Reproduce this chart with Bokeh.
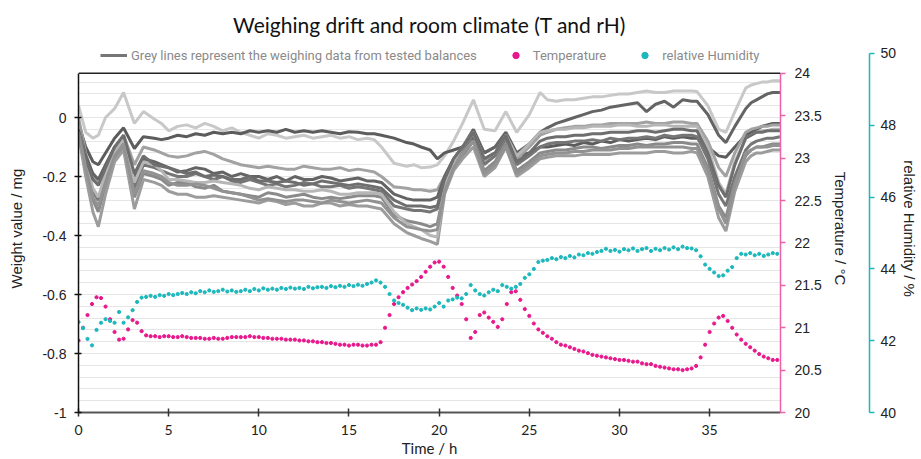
import numpy as np
from bokeh.plotting import figure
from bokeh.models import (Range1d, LinearAxis, FixedTicker, NumeralTickFormatter,
                          Span, Legend, LegendItem)
from bokeh.embed import file_html
from bokeh.resources import INLINE

# ---------------- data ----------------
# weighing drift of tested balances (mg), common time grid (h)
t_w = [0, 0.4, 0.8, 1.1, 1.5, 2.0, 2.5, 3.1, 3.6, 4.2,
       4.6, 5, 5.5, 6, 6.5, 7, 7.5, 8, 8.5, 9, 9.5, 10,
       10.5, 11, 11.5, 12, 12.5, 13, 13.5, 14, 14.5, 15, 15.5, 16,
       16.4, 16.8, 17.5, 18.2, 18.6, 19, 19.5, 19.9, 20.3, 20.8,
       21.3, 21.9, 22.5, 23.1, 23.7, 24.3, 25, 25.6,
       26, 26.5, 27, 27.5, 28, 28.5, 29, 29.5, 30, 30.5,
       31, 31.5, 32, 32.5, 33, 33.5, 34, 34.3, 34.9, 35.5,
       35.9, 36.4, 37.0, 37.3, 37.6, 37.9, 38.2, 38.5, 38.9]

w1 = [0.04, -0.05, -0.07, -0.06, 0.0, 0.03, 0.085, -0.02, 0.02, -0.005,
      -0.02, -0.045, -0.03, -0.025, -0.035, -0.02, -0.03, -0.045, -0.035, -0.05, -0.06, -0.07,
      -0.055, -0.06, -0.07, -0.065, -0.06, -0.07, -0.065, -0.06, -0.07, -0.065, -0.075, -0.07,
      -0.075, -0.1, -0.155, -0.165, -0.16, -0.17, -0.168, -0.16, -0.13, -0.08,
      -0.02, 0.06, -0.04, -0.045, 0.02, -0.05, 0.01, 0.085,
      0.06, 0.055, 0.06, 0.06, 0.065, 0.07, 0.07, 0.075, 0.08, 0.08,
      0.085, 0.09, 0.085, 0.085, 0.09, 0.09, 0.09, 0.088, 0.04, -0.04,
      -0.05, 0.02, 0.1, 0.11, 0.115, 0.12, 0.12, 0.125, 0.125]
w2 = [-0.02, -0.1, -0.15, -0.16, -0.12, -0.07, -0.035, -0.105, -0.065, -0.07,
      -0.075, -0.07, -0.06, -0.065, -0.055, -0.06, -0.05, -0.055, -0.05, -0.055, -0.045, -0.05,
      -0.045, -0.05, -0.04, -0.05, -0.045, -0.05, -0.045, -0.05, -0.055, -0.048, -0.05, -0.055,
      -0.055, -0.06, -0.07, -0.085, -0.09, -0.1, -0.11, -0.14, -0.12, -0.11,
      -0.1, -0.07, -0.12, -0.1, -0.08, -0.13, -0.12, -0.1,
      -0.1, -0.095, -0.09, -0.095, -0.085, -0.09, -0.08, -0.085, -0.075, -0.08,
      -0.075, -0.07, -0.075, -0.065, -0.07, -0.065, -0.07, -0.07, -0.1, -0.13,
      -0.135, -0.1, -0.06, -0.05, -0.04, -0.03, -0.025, -0.02, -0.02]
w3 = [0.0, -0.12, -0.2, -0.22, -0.17, -0.11, -0.06, -0.16, -0.1, -0.11,
      -0.12, -0.13, -0.135, -0.13, -0.12, -0.115, -0.125, -0.14, -0.15, -0.16, -0.165, -0.17,
      -0.165, -0.17, -0.175, -0.175, -0.165, -0.17, -0.175, -0.175, -0.17, -0.18, -0.175, -0.18,
      -0.185, -0.2, -0.235, -0.24, -0.245, -0.245, -0.25, -0.245, -0.2, -0.14,
      -0.1, -0.08, -0.15, -0.13, -0.08, -0.14, -0.1, -0.06,
      -0.05, -0.04, -0.035, -0.03, -0.03, -0.025, -0.025, -0.02, -0.02, -0.02,
      -0.02, -0.015, -0.02, -0.02, -0.015, -0.015, -0.02, -0.02, -0.08, -0.17,
      -0.2, -0.12, -0.05, -0.04, -0.035, -0.03, -0.03, -0.025, -0.025]
w4 = [-0.03, -0.13, -0.19, -0.21, -0.16, -0.1, -0.07, -0.2, -0.14, -0.15,
      -0.16, -0.17, -0.185, -0.18, -0.17, -0.175, -0.19, -0.185, -0.2, -0.19, -0.2, -0.2,
      -0.21, -0.2, -0.215, -0.2, -0.21, -0.21, -0.2, -0.205, -0.215, -0.21, -0.205, -0.215,
      -0.215, -0.22, -0.26, -0.275, -0.28, -0.28, -0.28, -0.27, -0.2, -0.14,
      -0.1, -0.04, -0.12, -0.1, -0.05, -0.12, -0.09, -0.05,
      -0.035, -0.02, -0.01, 0.0, 0.01, 0.02, 0.025, 0.035, 0.04, 0.045,
      0.05, 0.02, 0.045, 0.055, 0.035, 0.06, 0.055, 0.055, 0.01, -0.06,
      -0.085, -0.03, 0.03, 0.05, 0.06, 0.07, 0.08, 0.085, 0.085]
w5 = [-0.04, -0.16, -0.25, -0.28, -0.2, -0.12, -0.08, -0.24, -0.16, -0.17,
      -0.18, -0.19, -0.2, -0.2, -0.19, -0.2, -0.21, -0.2, -0.215, -0.22, -0.21, -0.22,
      -0.23, -0.225, -0.235, -0.23, -0.22, -0.225, -0.235, -0.235, -0.23, -0.24, -0.235, -0.24,
      -0.245, -0.25, -0.3, -0.31, -0.315, -0.315, -0.32, -0.31, -0.22, -0.15,
      -0.11, -0.06, -0.16, -0.13, -0.07, -0.16, -0.13, -0.1,
      -0.09, -0.085, -0.085, -0.08, -0.08, -0.075, -0.08, -0.07, -0.075, -0.07,
      -0.07, -0.065, -0.07, -0.06, -0.065, -0.06, -0.06, -0.065, -0.14, -0.26,
      -0.3, -0.2, -0.11, -0.09, -0.08, -0.075, -0.07, -0.07, -0.065]
w6 = [-0.05, -0.18, -0.28, -0.32, -0.23, -0.14, -0.1, -0.27, -0.19, -0.2,
      -0.21, -0.23, -0.22, -0.22, -0.235, -0.24, -0.23, -0.25, -0.255, -0.26, -0.265, -0.27,
      -0.255, -0.26, -0.27, -0.265, -0.26, -0.27, -0.275, -0.27, -0.275, -0.27, -0.265, -0.265,
      -0.265, -0.27, -0.33, -0.35, -0.355, -0.36, -0.37, -0.36, -0.24, -0.17,
      -0.13, -0.08, -0.18, -0.15, -0.09, -0.18, -0.15, -0.12,
      -0.115, -0.11, -0.11, -0.105, -0.1, -0.1, -0.105, -0.1, -0.095, -0.095,
      -0.09, -0.095, -0.09, -0.09, -0.085, -0.085, -0.09, -0.09, -0.17, -0.3,
      -0.34, -0.22, -0.13, -0.11, -0.1, -0.1, -0.095, -0.09, -0.09]
w7 = [-0.06, -0.2, -0.32, -0.37, -0.26, -0.15, -0.11, -0.31, -0.21, -0.22,
      -0.23, -0.25, -0.26, -0.26, -0.27, -0.27, -0.265, -0.27, -0.275, -0.28, -0.285, -0.29,
      -0.28, -0.285, -0.295, -0.29, -0.3, -0.3, -0.29, -0.29, -0.3, -0.295, -0.3, -0.3,
      -0.305, -0.31, -0.36, -0.39, -0.4, -0.41, -0.42, -0.43, -0.26, -0.18,
      -0.14, -0.1, -0.2, -0.17, -0.1, -0.2, -0.17, -0.14,
      -0.135, -0.13, -0.13, -0.13, -0.125, -0.125, -0.125, -0.125, -0.12, -0.12,
      -0.12, -0.12, -0.115, -0.115, -0.12, -0.12, -0.115, -0.12, -0.2, -0.34,
      -0.385, -0.25, -0.15, -0.13, -0.12, -0.12, -0.115, -0.11, -0.11]
w8 = [-0.03, -0.15, -0.24, -0.27, -0.19, -0.12, -0.07, -0.22, -0.15, -0.16,
      -0.18, -0.21, -0.21, -0.215, -0.22, -0.22, -0.215, -0.22, -0.225, -0.23, -0.24, -0.245,
      -0.235, -0.24, -0.245, -0.245, -0.25, -0.25, -0.245, -0.25, -0.26, -0.26, -0.255, -0.255,
      -0.255, -0.26, -0.32, -0.36, -0.37, -0.38, -0.4, -0.405, -0.23, -0.15,
      -0.1, -0.05, -0.14, -0.12, -0.06, -0.13, -0.09, -0.05,
      -0.045, -0.04, -0.04, -0.035, -0.035, -0.03, -0.03, -0.03, -0.025, -0.025,
      -0.03, -0.03, -0.025, -0.025, -0.03, -0.03, -0.03, -0.03, -0.1, -0.22,
      -0.26, -0.15, -0.07, -0.06, -0.05, -0.045, -0.045, -0.04, -0.04]
w9 = [-0.04, -0.14, -0.21, -0.23, -0.17, -0.1, -0.06, -0.19, -0.13, -0.16,
      -0.165, -0.17, -0.18, -0.19, -0.185, -0.2, -0.195, -0.2, -0.21, -0.21, -0.2, -0.215,
      -0.215, -0.22, -0.215, -0.22, -0.23, -0.225, -0.215, -0.22, -0.225, -0.23, -0.225, -0.23,
      -0.235, -0.24, -0.28, -0.3, -0.3, -0.3, -0.305, -0.3, -0.21, -0.14,
      -0.1, -0.05, -0.14, -0.12, -0.06, -0.15, -0.12, -0.08,
      -0.07, -0.065, -0.065, -0.06, -0.06, -0.055, -0.055, -0.05, -0.05, -0.05,
      -0.045, -0.045, -0.05, -0.045, -0.04, -0.04, -0.045, -0.045, -0.12, -0.23,
      -0.27, -0.16, -0.07, -0.06, -0.05, -0.05, -0.045, -0.045, -0.045]
w10 = [-0.05, -0.17, -0.27, -0.3, -0.22, -0.13, -0.09, -0.26, -0.18, -0.19,
       -0.2, -0.22, -0.23, -0.23, -0.225, -0.23, -0.24, -0.25, -0.255, -0.26, -0.27, -0.28,
       -0.275, -0.28, -0.285, -0.28, -0.28, -0.285, -0.29, -0.28, -0.285, -0.29, -0.285, -0.28,
       -0.285, -0.29, -0.34, -0.37, -0.375, -0.38, -0.385, -0.38, -0.25, -0.17,
       -0.12, -0.08, -0.19, -0.16, -0.1, -0.19, -0.16, -0.13,
       -0.125, -0.12, -0.12, -0.115, -0.115, -0.11, -0.11, -0.11, -0.105, -0.105,
       -0.1, -0.1, -0.1, -0.1, -0.1, -0.1, -0.105, -0.105, -0.18, -0.31,
       -0.36, -0.23, -0.12, -0.11, -0.1, -0.1, -0.1, -0.095, -0.095]

weights = [w1, w2, w3, w4, w5, w6, w7, w8, w9, w10]
grey_colors = ["#c8c8c8", "#5c5c5c", "#a2a2a2", "#646464", "#767676",
               "#8a8a8a", "#9c9c9c", "#b6b6b6", "#6e6e6e", "#929292"]

# room climate, sampled every 0.25 h
temperature = [20.85, 21.0, 21.15, 21.28, 21.36, 21.35, 21.25, 21.1, 20.95, 20.86, 20.87, 20.98,
               21.09, 21.06, 20.96, 20.91, 20.90,
               20.90, 20.89, 20.90, 20.90, 20.89, 20.89, 20.90, 20.89, 20.88, 20.88, 20.88, 20.87,
               20.87, 20.88, 20.87, 20.87, 20.88, 20.89, 20.89,
               20.89, 20.89, 20.90, 20.89, 20.89, 20.88, 20.88, 20.87, 20.87, 20.87, 20.86, 20.86,
               20.86, 20.85, 20.85, 20.84, 20.84, 20.83, 20.83, 20.82, 20.82, 20.81, 20.80, 20.80,
               20.79, 20.80, 20.80, 20.79, 20.79, 20.80, 20.80, 20.83,
               21.0, 21.15, 21.28, 21.36, 21.42, 21.47, 21.51, 21.55, 21.6, 21.66, 21.72, 21.77,
               21.78, 21.72, 21.6, 21.47, 21.38, 21.28, 21.1, 20.88, 20.95, 21.15, 21.18, 21.12,
               21.07, 21.01, 21.1, 21.28, 21.42, 21.43, 21.33, 21.22, 21.14, 21.05, 20.98, 20.94,
               20.9, 20.87, 20.83, 20.8, 20.79, 20.77, 20.75, 20.73, 20.72, 20.7, 20.68, 20.67,
               20.66, 20.65, 20.64, 20.63, 20.62, 20.62, 20.61, 20.6, 20.6, 20.58, 20.57, 20.57,
               20.55, 20.54, 20.53, 20.52, 20.51, 20.51, 20.50, 20.51, 20.52, 20.55, 20.65, 20.8,
               20.95, 21.05, 21.12, 21.14, 21.08, 21.0, 20.92, 20.86, 20.81, 20.77, 20.73, 20.69,
               20.66, 20.64, 20.62, 20.62]
humidity = [42.52, 42.35, 42.05, 41.87, 42.3, 42.5, 42.6, 42.55, 42.5, 42.8, 42.5, 42.65, 42.85,
            43.08, 43.2, 43.22, 43.25, 43.22, 43.27, 43.25, 43.3, 43.27, 43.3, 43.33, 43.3, 43.35,
            43.32, 43.38, 43.35, 43.4, 43.36, 43.38, 43.42, 43.37, 43.4, 43.36, 43.38, 43.42,
            43.38, 43.44, 43.4, 43.46, 43.42, 43.45, 43.42, 43.47, 43.44, 43.48, 43.45, 43.47,
            43.44, 43.5, 43.46, 43.49, 43.5, 43.47, 43.52, 43.49, 43.53, 43.5, 43.55, 43.52,
            43.56, 43.53, 43.58, 43.62, 43.68, 43.62, 43.5, 43.3, 43.12, 43.05, 43.0, 42.92,
            42.85, 42.9, 42.86, 42.9, 42.87, 42.95, 43.05, 42.95, 43.12, 43.15, 43.2, 43.18,
            43.3, 43.55, 43.4, 43.3, 43.26, 43.35, 43.42, 43.38, 43.55, 43.5, 43.45, 43.5, 43.58,
            43.75, 43.85, 44.0, 44.19, 44.23, 44.25, 44.3, 44.27, 44.33, 44.3, 44.36, 44.32,
            44.4, 44.38, 44.44, 44.42, 44.47, 44.5, 44.56, 44.5, 44.53, 44.48, 44.55, 44.52,
            44.57, 44.5, 44.55, 44.58, 44.5, 44.56, 44.52, 44.58, 44.54, 44.6, 44.55, 44.62,
            44.58, 44.57, 44.52, 44.35, 44.12, 44.0, 43.9, 43.8, 43.82, 43.95, 44.05, 44.3,
            44.42, 44.4, 44.44, 44.38, 44.42, 44.36, 44.4, 44.44, 44.42]
t_temp = np.arange(len(temperature)) * 0.25
t_hum = np.arange(len(humidity)) * 0.25

x_ticks = [0, 5, 10, 15, 20, 25, 30, 35]
w_ticks = [-1, -0.8, -0.6, -0.4, -0.2, 0]
temp_ticks = [20, 20.5, 21, 21.5, 22, 22.5, 23, 23.5, 24]
hum_ticks = [40, 42, 44, 46, 48, 50]
grid_ticks = [round(v, 2) for v in np.arange(-1.0, 0.13, 0.04)]

PINK = "#e8188c"
PINK_AXIS = "#f060aa"
TEAL = "#1cb8bb"
TICK_FONT = "Liberation Sans"
ROUND_FONT = "Lato"

# ---------------- figure ----------------
p = figure(width=921, height=459, output_backend="svg", toolbar_location=None,
           x_range=Range1d(0, 38.93), y_range=Range1d(-1, 0.2475),
           min_border_left=78, min_border_right=140, min_border_top=44, min_border_bottom=47,
           title="Weighing drift and room climate (T and rH)")
p.outline_line_color = None
p.background_fill_color = "white"
p.border_fill_color = "white"

p.title.align = "center"
p.title.text_font = ROUND_FONT
p.title.text_font_size = "21px"
p.title.text_font_style = "normal"
p.title.text_color = "#111111"
p.title.standoff = 16

p.extra_y_ranges = {"temp": Range1d(20, 24.342), "hum": Range1d(40, 50.25)}

# grid
p.xgrid.visible = False
p.ygrid.ticker = FixedTicker(ticks=grid_ticks)
p.ygrid.grid_line_color = "#e6e6e6"
p.ygrid.grid_line_width = 1

# left axis
ya = p.yaxis[0]
ya.ticker = FixedTicker(ticks=w_ticks)
ya.bounds = (-1, 0.15)
ya.formatter = NumeralTickFormatter(format="0.[0]")
ya.axis_line_color = "#111111"
ya.axis_line_width = 1.5
ya.major_tick_line_color = "#111111"
ya.major_tick_line_width = 1.5
ya.major_tick_in = 3
ya.major_tick_out = 4
ya.minor_tick_line_color = None
ya.major_label_standoff = 8
ya.major_label_text_font = TICK_FONT
ya.major_label_text_font_size = "14px"
ya.major_label_text_color = "#222222"
ya.axis_label = "Weight value / mg"
ya.axis_label_text_font = TICK_FONT
ya.axis_label_text_font_size = "15px"
ya.axis_label_text_font_style = "normal"
ya.axis_label_text_color = "#222222"
ya.axis_label_standoff = 14

# bottom axis
xa = p.xaxis[0]
xa.ticker = FixedTicker(ticks=x_ticks)
xa.axis_line_color = "#555555"
xa.axis_line_width = 2
xa.major_tick_line_color = "#333333"
xa.major_tick_line_width = 1.5
xa.major_tick_in = 4
xa.major_tick_out = 4
xa.minor_tick_line_color = None
xa.major_label_standoff = 8
xa.major_label_text_font = ROUND_FONT
xa.major_label_text_font_size = "14px"
xa.major_label_text_color = "#222222"
xa.axis_label = "Time / h"
xa.axis_label_text_font = ROUND_FONT
xa.axis_label_text_font_size = "15px"
xa.axis_label_text_font_style = "normal"
xa.axis_label_text_color = "#222222"
xa.axis_label_standoff = 1

# temperature axis
ta = LinearAxis(y_range_name="temp", ticker=FixedTicker(ticks=temp_ticks), bounds=(20, 24),
                formatter=NumeralTickFormatter(format="0.[0]"),
                axis_line_color=PINK_AXIS, axis_line_width=1.5,
                major_tick_line_color=PINK_AXIS, major_tick_line_width=1.5,
                major_tick_in=0, major_tick_out=5, minor_tick_line_color=None,
                major_label_standoff=9, major_label_text_font=TICK_FONT,
                major_label_text_font_size="14px", major_label_text_color="#222222",
                axis_label="Temperature / °C", axis_label_text_font=TICK_FONT,
                axis_label_text_font_size="15px", axis_label_text_font_style="normal",
                axis_label_text_color="#222222", axis_label_standoff=7)
p.add_layout(ta, "right")

# empty spacer axis between the two right axes
sp = LinearAxis(y_range_name="temp", ticker=FixedTicker(ticks=[]), axis_line_color=None,
                major_tick_line_color=None, minor_tick_line_color=None, major_tick_in=0,
                major_tick_out=0, major_label_text_font_size="0px",
                axis_label=" ", axis_label_text_font_size="13px", axis_label_standoff=0)
p.add_layout(sp, "right")

# humidity axis
ha = LinearAxis(y_range_name="hum", ticker=FixedTicker(ticks=hum_ticks), bounds=(40, 50),
                axis_line_color=TEAL, axis_line_width=1.5,
                major_tick_line_color=TEAL, major_tick_line_width=1.5,
                major_tick_in=0, major_tick_out=5, minor_tick_line_color=None,
                major_label_standoff=6, major_label_text_font=TICK_FONT,
                major_label_text_font_size="14px", major_label_text_color="#222222",
                axis_label="relative Humidity / %", axis_label_text_font=TICK_FONT,
                axis_label_text_font_size="15px", axis_label_text_font_style="normal",
                axis_label_text_color="#222222", axis_label_standoff=2)
p.add_layout(ha, "right")

# top border of the plot area
p.add_layout(Span(location=0.15, dimension="width", line_color="#222222", line_width=1.5))

# ---------------- data marks ----------------
line_renderers = []
for vals, col in zip(weights, grey_colors):
    line_renderers.append(p.line(t_w, vals, line_color=col, line_width=3))

r_temp = p.scatter(t_temp, temperature, y_range_name="temp", marker="circle", size=3.2,
                   fill_color=PINK, line_color=PINK)
r_hum = p.scatter(t_hum, humidity, y_range_name="hum", marker="circle", size=3.2,
                  fill_color=TEAL, line_color=TEAL)

legend = Legend(items=[
    LegendItem(label="Grey lines represent the weighing data from tested balances",
               renderers=[line_renderers[4]]),
    LegendItem(label="Temperature", renderers=[r_temp]),
    LegendItem(label="relative Humidity", renderers=[r_hum]),
], location=(22, 349), orientation="horizontal")
legend.label_text_font = "Roboto"
legend.label_text_font_size = "13px"
legend.label_text_color = "#8a8a8a"
legend.glyph_width = 27
legend.glyph_height = 16
legend.label_standoff = 4
legend.spacing = 25
legend.padding = 0
legend.margin = 0
legend.border_line_color = None
legend.background_fill_alpha = 0
p.add_layout(legend)

open("out.html", "w").write(file_html(p, INLINE))
